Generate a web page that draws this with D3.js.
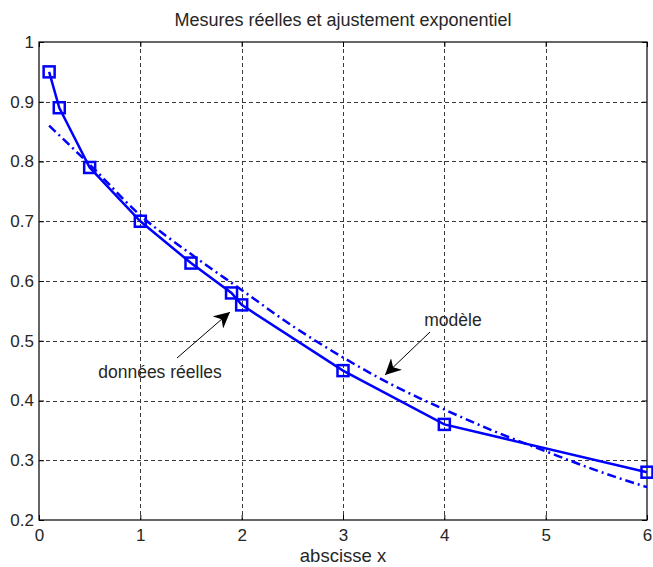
<!DOCTYPE html>
<html>
<head>
<meta charset="utf-8">
<script src="https://cdn.jsdelivr.net/npm/d3@7"></script>
<style>
  body { margin: 0; background: #fff; }
  text { font-family: "Liberation Sans", Arial, sans-serif; fill: #262626; }
</style>
</head>
<body>
<svg id="chart" width="653" height="567"></svg>
<script>
// measured data (squares, solid line)
var dataX = [0.1, 0.2, 0.5, 1, 1.5, 1.9, 2, 3, 4, 6];
var dataY = [0.95, 0.89, 0.79, 0.70, 0.63, 0.58, 0.56, 0.45, 0.36, 0.28];

// exponential model (dash-dot)
var modelX = [0.1, 0.5, 1, 1.5, 2, 2.5, 3, 3.5, 4, 4.5, 5, 5.5, 6];
var modelY = [0.86, 0.795, 0.71, 0.645, 0.585, 0.525, 0.472, 0.425, 0.385, 0.348, 0.315, 0.283, 0.255];

var xTicks = [0, 1, 2, 3, 4, 5, 6];
var yTicks = [0.2, 0.3, 0.4, 0.5, 0.6, 0.7, 0.8, 0.9, 1];

var svg = d3.select("#chart");
var x = d3.scaleLinear().domain([0, 6]).range([39, 647]);
var y = d3.scaleLinear().domain([0.2, 1]).range([520, 42]);

// grid
var grid = svg.append("g").attr("stroke", "#3a3a3a").attr("stroke-width", 1).attr("stroke-dasharray", "4,3");
grid.selectAll("line.gx").data(xTicks.slice(1, -1)).enter().append("line")
    .attr("x1", function (d) { return Math.round(x(d)) + 0.5; })
    .attr("x2", function (d) { return Math.round(x(d)) + 0.5; })
    .attr("y1", y(1)).attr("y2", y(0.2));
grid.selectAll("line.gy").data(yTicks.slice(1, -1)).enter().append("line")
    .attr("y1", function (d) { return Math.round(y(d)) + 0.5; })
    .attr("y2", function (d) { return Math.round(y(d)) + 0.5; })
    .attr("x1", x(0)).attr("x2", x(6));

// axes (MATLAB style: ticks inside, box)
var fmtY = function (d) { return d === 1 ? "1" : d3.format(".1f")(d); };
svg.append("g").attr("transform", "translate(0," + y(0.2) + ")")
    .call(d3.axisBottom(x).tickValues(xTicks).tickSize(-5).tickPadding(9).tickFormat(d3.format("d")))
    .call(function (g) { g.select(".domain").remove(); g.selectAll("text").attr("font-size", 17); });
svg.append("g").attr("transform", "translate(0," + y(1) + ")")
    .call(d3.axisTop(x).tickValues(xTicks).tickSize(-5).tickFormat(""))
    .call(function (g) { g.select(".domain").remove(); });
svg.append("g").attr("transform", "translate(" + x(0) + ",0)")
    .call(d3.axisLeft(y).tickValues(yTicks).tickSize(-5).tickPadding(5).tickFormat(fmtY))
    .call(function (g) { g.select(".domain").remove(); g.selectAll("text").attr("font-size", 17); });
svg.append("g").attr("transform", "translate(" + x(6) + ",0)")
    .call(d3.axisRight(y).tickValues(yTicks).tickSize(-5).tickFormat(""))
    .call(function (g) { g.select(".domain").remove(); });
svg.selectAll(".tick line").attr("stroke", "#000");
svg.selectAll(".tick text").attr("fill", "#262626").attr("font-family", "Liberation Sans, Arial, sans-serif");
svg.append("rect")
    .attr("x", x(0)).attr("y", y(1))
    .attr("width", x(6) - x(0)).attr("height", y(0.2) - y(1))
    .attr("fill", "none").attr("stroke", "#000").attr("stroke-width", 1.2);

// model curve
var modelPts = modelX.map(function (d, i) { return [d, modelY[i]]; });
svg.append("path")
    .datum(modelPts)
    .attr("fill", "none").attr("stroke", "#0000ff").attr("stroke-width", 2.5)
    .attr("stroke-dasharray", "9,4,2,4")
    .attr("d", d3.line().x(function (d) { return x(d[0]); }).y(function (d) { return y(d[1]); }).curve(d3.curveMonotoneX));

// data line + squares
var dataPts = dataX.map(function (d, i) { return [d, dataY[i]]; });
svg.append("path")
    .datum(dataPts)
    .attr("fill", "none").attr("stroke", "#0000ff").attr("stroke-width", 2.5)
    .attr("d", d3.line().x(function (d) { return x(d[0]); }).y(function (d) { return y(d[1]); }));
svg.selectAll("rect.pt").data(dataPts).enter().append("rect")
    .attr("class", "pt")
    .attr("x", function (d) { return x(d[0]) - 5.5; })
    .attr("y", function (d) { return y(d[1]) - 5.5; })
    .attr("width", 11).attr("height", 11)
    .attr("fill", "none").attr("stroke", "#0000ff").attr("stroke-width", 2.5);

// annotations
var defs = svg.append("defs");
defs.append("marker").attr("id", "arr")
    .attr("viewBox", "0 0 10 10").attr("refX", 10).attr("refY", 5)
    .attr("markerWidth", 16).attr("markerHeight", 16).attr("markerUnits", "userSpaceOnUse")
    .attr("orient", "auto")
    .append("path").attr("d", "M0,0 L10,5 L0,10 L3,5 Z").attr("fill", "#000");

svg.append("line").attr("x1", 177).attr("y1", 358).attr("x2", 230).attr("y2", 312)
    .attr("stroke", "#000").attr("stroke-width", 1).attr("marker-end", "url(#arr)");
svg.append("text").attr("x", 160).attr("y", 378).attr("text-anchor", "middle")
    .attr("font-size", 17.5).text("données réelles");

svg.append("line").attr("x1", 430).attr("y1", 332).attr("x2", 385).attr("y2", 375)
    .attr("stroke", "#000").attr("stroke-width", 1).attr("marker-end", "url(#arr)");
svg.append("text").attr("x", 453).attr("y", 326).attr("text-anchor", "middle")
    .attr("font-size", 17.5).text("modèle");

// title and label
svg.append("text").attr("x", (x(0) + x(6)) / 2).attr("y", 26).attr("text-anchor", "middle")
    .attr("font-size", 18).text("Mesures réelles et ajustement exponentiel");
svg.append("text").attr("x", (x(0) + x(6)) / 2).attr("y", 562).attr("text-anchor", "middle")
    .attr("font-size", 18.5).text("abscisse x");
</script>
</body>
</html>
